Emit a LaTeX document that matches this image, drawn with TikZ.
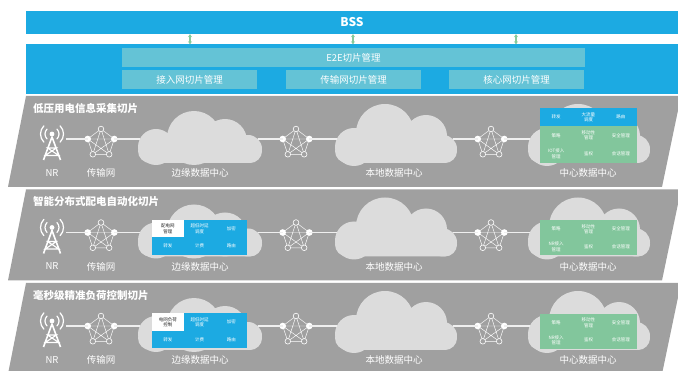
\documentclass[tikz,border=0pt]{standalone}
\usepackage{fontspec}
\setmainfont{Noto Sans CJK SC}
\usetikzlibrary{arrows.meta}

\definecolor{bssblue}{HTML}{1CAAE2}
\definecolor{mgmtteal}{HTML}{64C3D6}
\definecolor{slicegray}{HTML}{A0A0A0}
\definecolor{cloudgray}{HTML}{DCDCDC}
\definecolor{coregreen}{HTML}{82C69C}
\definecolor{linkgray}{HTML}{EFEFEF}
\definecolor{arrowgreen}{HTML}{86CB9C}

\tikzset{
  bar/.style={fill=bssblue, draw=none, text=white, inner sep=0pt},
  mgmt/.style={fill=mgmtteal, draw=none, text=white, inner sep=0pt,
    minimum height=19pt, font=\fontsize{9.5}{10}\selectfont},
  slicebody/.style={fill=slicegray},
  slicetitle/.style={text=white, anchor=west, inner sep=0pt,
    font=\bfseries\fontsize{10.5}{11}\selectfont},
  sitelabel/.style={text=white, inner sep=0pt, font=\fontsize{9.5}{10}\selectfont},
  link/.style={draw=linkgray, line width=1.1pt},
  syncarrow/.style={draw=arrowgreen, line width=1.2pt,
    {Stealth[length=3pt,width=4pt]}-{Stealth[length=3pt,width=4pt]}},
  celltext/.style={text=white, inner sep=0pt, align=center,
    font=\fontsize{4.5}{5.2}\selectfont},
  darkcelltext/.style={celltext, text=black!85},
  % radio mast with signal arcs
  tower/.pic={
    \coordinate (-r) at (14,0);
    \fill[white] (0,-5) circle (2.4pt);
    \draw[white, line width=1.2pt, line cap=round]
      ([shift={(-45:7pt)}]0,-5) arc[start angle=-45, end angle=45, radius=7pt]
      ([shift={(-45:11.5pt)}]0,-5) arc[start angle=-45, end angle=45, radius=11.5pt]
      ([shift={(135:7pt)}]0,-5) arc[start angle=135, end angle=225, radius=7pt]
      ([shift={(135:11.5pt)}]0,-5) arc[start angle=135, end angle=225, radius=11.5pt];
    \draw[white, line width=1.6pt, line join=round] (-8.5,21) -- (0,-2) -- (8.5,21);
    \draw[white, line width=1.1pt]
      (-4.4,9) -- (4.4,9) -- (-6.8,16.5) -- (6.8,16.5) -- cycle;
  },
  % transport network: fully meshed pentagon
  mesh/.pic={
    \coordinate (-t) at (0,-10);
    \coordinate (-l) at (-13.3,0);
    \coordinate (-r) at (13.3,0);
    \coordinate (-bl) at (-8.2,15.3);
    \coordinate (-br) at (8.2,15.3);
    \draw[white, line width=0.45pt]
      (-t) -- (-l) -- (-bl) -- (-br) -- (-r) -- cycle
      (-t) -- (-bl) -- (-r) -- (-l) -- (-br) -- cycle;
    \filldraw[draw=white, fill=slicegray, line width=0.6pt]
      (-t) circle (2.8pt) (-bl) circle (2.8pt) (-br) circle (2.8pt);
    \fill[white] (-l) circle (3.3pt) (-r) circle (3.3pt);
  },
  % tall data-centre cloud
  cloudshape/.pic={
    \fill[cloudgray] (-39,8) circle (19pt) (-8,-6) circle (29pt)
      (33,-3) circle (21pt) (50,10) circle (14pt);
    \fill[cloudgray, rounded corners=12pt] (-58,0) rectangle (64,24);
    \coordinate (-w) at (-56,0);
    \coordinate (-e) at (59.5,0);
  },
  % lower edge data-centre cloud
  cloudlow/.pic={
    \fill[cloudgray] (-44,8) circle (18pt) (-6,-1) circle (27pt)
      (25,2) circle (22pt) (48,10) circle (14pt);
    \fill[cloudgray, rounded corners=12pt] (-62,0) rectangle (62,24);
    \coordinate (-w) at (-60,0);
    \coordinate (-e) at (57.5,0);
  },
}

% one network slice: band, access/transport/data-centre chain and labels
\newcommand{\sliceband}[3]{%
  \begin{scope}[shift={(0,#2)}]
    \fill[slicebody] (26,0) -- (681,0) -- (662,91) -- (8,91) -- cycle;
    \node[slicetitle] (title#1) at (33,12) {#3};
    \pic (cla#1) at (200,43) {cloudlow};
    \pic (clb#1) at (393,43) {cloudshape};
    \pic (clc#1) at (586,43) {cloudshape};
    \pic (tw#1) at (52,43) {tower};
    \pic (ma#1) at (101,43) {mesh};
    \pic (mb#1) at (296,43) {mesh};
    \pic (mc#1) at (491,43) {mesh};
    \draw[link] (tw#1-r) -- (ma#1-l);
    \draw[link] (ma#1-r) -- (cla#1-w);
    \draw[link] (cla#1-e) -- (mb#1-l);
    \draw[link] (mb#1-r) -- (clb#1-w);
    \draw[link] (clb#1-e) -- (mc#1-l);
    \draw[link] (mc#1-r) -- (clc#1-w);
    \node[sitelabel] (lnr#1) at (52,77) {NR};
    \node[sitelabel] (ltn#1) at (101,77) {传输网};
    \node[sitelabel] (led#1) at (200,77) {边缘数据中心};
    \node[sitelabel] (lld#1) at (394,77) {本地数据中心};
    \node[sitelabel] (lcd#1) at (588,77) {中心数据中心};
  \end{scope}}

% three text cells in a row
\newcommand{\cellrow}[8]{%
  \node[#5] (#1a) at ({#2+0.5*#4},#3) {#6};
  \node[#5] (#1b) at ({#2+1.5*#4},#3) {#7};
  \node[#5] (#1c) at ({#2+2.5*#4},#3) {#8};}

% edge data-centre function block (first cell highlighted)
\newcommand{\edgeblock}[3]{% id, top of block, highlighted function
  \fill[bssblue] (152,#2) rectangle (247,{#2+35});
  \fill[white] (152,#2) rectangle ({152+31.7},{#2+17.5});
  \node[darkcelltext] (ew#1) at ({152+0.5*31.7},{#2+8.75}) {#3};
  \node[celltext] (eb#1) at ({152+1.5*31.7},{#2+8.75}) {超低时延\\调度};
  \node[celltext] (ec#1) at ({152+2.5*31.7},{#2+8.75}) {加密};
  \cellrow{er#1}{152}{#2+26.25}{31.7}{celltext}{转发}{计费}{路由}}

% core data-centre control functions (two green rows)
\newcommand{\coreblock}[3]{% id, top of block, access function
  \fill[coregreen] (540,#2) rectangle (637,{#2+35});
  \cellrow{ca#1}{540}{#2+8.75}{32.33}{celltext}{策略}{移动性\\管理}{安全管理}
  \cellrow{cb#1}{540}{#2+26.25}{32.33}{celltext}{#3}{鉴权}{会话管理}}

\begin{document}
\begin{tikzpicture}[x=1pt,y=-1pt]
  \useasboundingbox (0,0) rectangle (678,371);
  \fill[white] (0,0) rectangle (678,371);

  % business support system and slice orchestration
  \node[bar, minimum width=652pt, minimum height=23pt,
        font=\bfseries\fontsize{12}{13}\selectfont] (bss) at (352,22.5) {BSS};
  \node[bar, minimum width=652pt, minimum height=50pt] (orch) at (352,69.5) {};
  \node[mgmt, minimum width=463pt] (e2e) at (353.5,57.5) {E2E切片管理};
  \node[mgmt, minimum width=135pt] (ran) at (189.5,79.5) {接入网切片管理};
  \node[mgmt, minimum width=135pt] (tn) at (353.5,79.5) {传输网切片管理};
  \node[mgmt, minimum width=135pt] (cn) at (516.5,79.5) {核心网切片管理};
  \coordinate (ax1) at (190,0);
  \coordinate (ax2) at (353,0);
  \coordinate (ax3) at (516,0);
  \draw[syncarrow] (bss.south -| ax1) -- (orch.north -| ax1);
  \draw[syncarrow] (bss.south -| ax2) -- (orch.north -| ax2);
  \draw[syncarrow] (bss.south -| ax3) -- (orch.north -| ax3);

  % slice 1: low-voltage metering
  \sliceband{1}{96}{低压用电信息采集切片}
  \fill[bssblue] (540,108) rectangle (637,126.3);
  \fill[coregreen] (540,126.3) rectangle (637,163);
  \cellrow{cu1}{540}{117.15}{32.33}{celltext}{转发}{大流量\\调度}{路由}
  \cellrow{ca1}{540}{135.45}{32.33}{celltext}{策略}{移动性\\管理}{安全管理}
  \cellrow{cb1}{540}{153.75}{32.33}{celltext}{IOT接入\\管理}{鉴权}{会话管理}

  % slice 2: distribution automation
  \sliceband{2}{189.5}{智能分布式配电自动化切片}
  \edgeblock{2}{220}{配电网\\管理}
  \coreblock{2}{220.5}{NR接入\\管理}

  % slice 3: millisecond load control
  \sliceband{3}{283}{毫秒级精准负荷控制切片}
  \edgeblock{3}{313.5}{电网负荷\\控制}
  \coreblock{3}{314}{NR接入\\管理}
\end{tikzpicture}
\end{document}
